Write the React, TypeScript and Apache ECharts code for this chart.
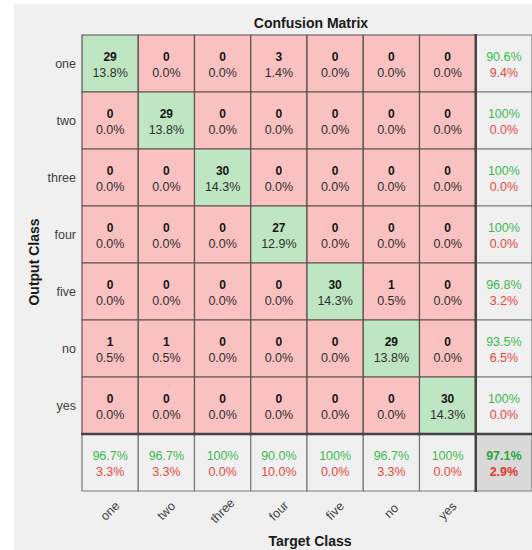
import React, { useEffect, useRef } from "react";
import * as echarts from "echarts";

const classes = ["one", "two", "three", "four", "five", "no", "yes"];
// rows = output class, columns = target class
const counts: number[][] = [
  [29, 0, 0, 3, 0, 0, 0],
  [0, 29, 0, 0, 0, 0, 0],
  [0, 0, 30, 0, 0, 0, 0],
  [0, 0, 0, 27, 0, 0, 0],
  [0, 0, 0, 0, 30, 1, 0],
  [1, 1, 0, 0, 0, 29, 0],
  [0, 0, 0, 0, 0, 0, 30],
];
const titleText = "Confusion Matrix";
const xName = "Target Class";
const yName = "Output Class";

const FONT = "'Liberation Sans', Arial, Helvetica, sans-serif";
const GREEN_BG = "#bee6c3";
const RED_BG = "#f9c1bf";
const SUM_BG = "#f0f0f0";
const TOTAL_BG = "#d9d9d9";
const GREEN_TX = "#3dba4f";
const RED_TX = "#e8473e";

function fmtCell(v: number) {
  return v.toFixed(1) + "%";
}
function fmtSum(v: number) {
  if (Math.abs(v - 100) < 1e-9) return "100%";
  return v.toFixed(1) + "%";
}

type Cell = { c: number; r: number; kind: string; text: string };

function buildCells(): Cell[] {
  const n = classes.length;
  let total = 0;
  let correct = 0;
  for (let r = 0; r < n; r++)
    for (let c = 0; c < n; c++) {
      total += counts[r][c];
      if (r === c) correct += counts[r][c];
    }
  const cells: Cell[] = [];
  for (let r = 0; r < n; r++) {
    for (let c = 0; c < n; c++) {
      const v = counts[r][c];
      cells.push({
        c,
        r,
        kind: r === c ? "diag" : "off",
        text: `{cnt|${v}}\n{pct|${fmtCell((v / total) * 100)}}`,
      });
    }
    const rowSum = counts[r].reduce((a, b) => a + b, 0);
    const acc = rowSum ? (counts[r][r] / rowSum) * 100 : 0;
    cells.push({
      c: n,
      r,
      kind: "sum",
      text: `{g|${fmtSum(acc)}}\n{rd|${fmtSum(100 - acc)}}`,
    });
  }
  for (let c = 0; c < n; c++) {
    let colSum = 0;
    for (let r = 0; r < n; r++) colSum += counts[r][c];
    const acc = colSum ? (counts[c][c] / colSum) * 100 : 0;
    cells.push({
      c,
      r: n,
      kind: "sum",
      text: `{g|${fmtSum(acc)}}\n{rd|${fmtSum(100 - acc)}}`,
    });
  }
  const acc = (correct / total) * 100;
  cells.push({
    c: n,
    r: n,
    kind: "total",
    text: `{gb|${fmtSum(acc)}}\n{rb|${fmtSum(100 - acc)}}`,
  });
  return cells;
}

export default function App() {
  const ref = useRef<HTMLDivElement>(null);
  useEffect(() => {
    if (!ref.current) return;
    const chart = echarts.init(ref.current, undefined, { renderer: "svg" });
    const cells = buildCells();
    const cats = [...classes, ""];
    const rich = {
      cnt: { fontFamily: FONT, fontSize: 12, fontWeight: "bold", fill: "#151515", lineHeight: 16 },
      pct: { fontFamily: FONT, fontSize: 12.5, fill: "#303030", lineHeight: 16 },
      g: { fontFamily: FONT, fontSize: 12.5, fill: GREEN_TX, lineHeight: 16 },
      rd: { fontFamily: FONT, fontSize: 12.5, fill: RED_TX, lineHeight: 16 },
      gb: { fontFamily: FONT, fontSize: 12.5, fontWeight: "bold", fill: "#2aa63f", lineHeight: 16 },
      rb: { fontFamily: FONT, fontSize: 12.5, fontWeight: "bold", fill: "#e3372c", lineHeight: 16 },
    };
    chart.setOption({
      animation: false,
      backgroundColor: "#ffffff",
      textStyle: { fontFamily: FONT },
      grid: { left: 82, top: 35, width: 456, height: 456 },
      xAxis: {
        type: "category",
        data: cats,
        position: "bottom",
        axisLine: { show: false },
        axisTick: { show: false },
        splitLine: { show: false },
        axisLabel: {
          rotate: 45,
          align: "center",
          verticalAlign: "middle",
          margin: 20,
          fontSize: 12.5,
          color: "#404040",
          fontFamily: FONT,
          interval: 0,
        },
      },
      yAxis: {
        type: "category",
        data: cats,
        inverse: true,
        axisLine: { show: false },
        axisTick: { show: false },
        splitLine: { show: false },
        axisLabel: {
          margin: 6,
          fontSize: 12.5,
          color: "#404040",
          fontFamily: FONT,
          interval: 0,
        },
      },
      graphic: [
        {
          type: "rect",
          z: -100,
          silent: true,
          shape: { x: 14, y: 4, width: 600, height: 600 },
          style: { fill: "#f0f0f0" },
        },
        {
          type: "text",
          z: 100,
          x: 311,
          y: 23,
          style: {
            text: titleText,
            fontFamily: FONT,
            fontSize: 14,
            fontWeight: "bold",
            fill: "#1a1a1a",
            align: "center",
            verticalAlign: "middle",
          },
        },
        {
          type: "text",
          z: 100,
          x: 310,
          y: 541,
          style: {
            text: xName,
            fontFamily: FONT,
            fontSize: 14,
            fontWeight: "bold",
            fill: "#1a1a1a",
            align: "center",
            verticalAlign: "middle",
          },
        },
        {
          type: "text",
          z: 100,
          x: 34,
          y: 262,
          rotation: Math.PI / 2,
          style: {
            text: yName,
            fontFamily: FONT,
            fontSize: 14,
            fontWeight: "bold",
            fill: "#1a1a1a",
            align: "center",
            verticalAlign: "middle",
          },
        },
      ],
      series: [
        {
          type: "custom",
          coordinateSystem: "cartesian2d",
          data: cells.map((d) => [d.c, d.r]),
          renderItem: (params: any, api: any) => {
            const cell = cells[params.dataIndex];
            const c = api.value(0);
            const r = api.value(1);
            const p = api.coord([c, r]);
            const s = api.size([1, 1]);
            const x0 = p[0] - s[0] / 2;
            const y0 = p[1] - s[1] / 2;
            const fill =
              cell.kind === "diag"
                ? GREEN_BG
                : cell.kind === "off"
                ? RED_BG
                : cell.kind === "sum"
                ? SUM_BG
                : TOTAL_BG;
            const isSum = cell.kind === "sum" || cell.kind === "total";
            const children: any[] = [
              {
                type: "rect",
                shape: { x: x0, y: y0, width: s[0], height: s[1] },
                style: {
                  fill,
                  stroke: isSum ? "#7a7a7a" : "#5a5050",
                  lineWidth: 1.2,
                },
              },
              {
                type: "text",
                z2: 10,
                style: {
                  x: p[0],
                  y: p[1] + 1.5,
                  text: cell.text,
                  rich,
                  align: "center",
                  verticalAlign: "middle",
                },
              },
            ];
            if (c === classes.length) {
              children.push({
                type: "line",
                z2: 20,
                shape: { x1: x0, y1: y0 - 1, x2: x0, y2: y0 + s[1] + 1 },
                style: { stroke: "#444444", lineWidth: 2.5 },
              });
            }
            if (r === classes.length) {
              children.push({
                type: "line",
                z2: 20,
                shape: { x1: x0 - 1, y1: y0, x2: x0 + s[0] + 1, y2: y0 },
                style: { stroke: "#444444", lineWidth: 2.5 },
              });
            }
            return { type: "group", children };
          },
        },
      ],
    });
    return () => chart.dispose();
  }, []);
  return (
    <div
      ref={ref}
      style={{ position: "fixed", left: 0, top: 0, width: 532, height: 550 }}
    />
  );
}
